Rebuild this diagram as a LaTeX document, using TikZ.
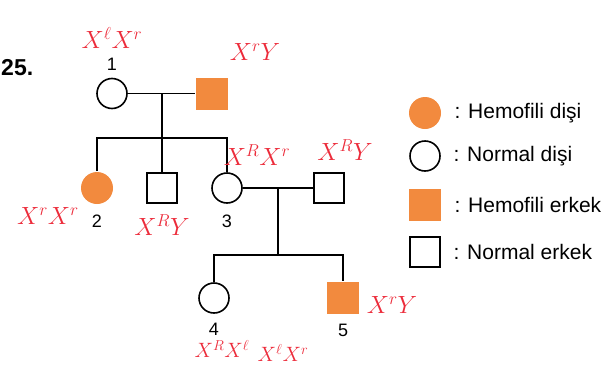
\documentclass[tikz,border=0pt]{standalone}
\usepackage{fontspec}
\setmainfont{Liberation Sans}
\usetikzlibrary{positioning}
\definecolor{hemoorange}{HTML}{F28A3E}
\definecolor{penred}{HTML}{EC2B3A}

\begin{document}
\begin{tikzpicture}[x=1pt, y=-1pt, line width=1.6pt]
\tikzstyle{female} = [circle, draw=black, minimum size=30pt, inner sep=0pt]
\tikzstyle{male} = [rectangle, draw=black, minimum size=30pt, inner sep=0pt]
\tikzstyle{hemofemale} = [circle, fill=hemoorange, minimum size=32pt, inner sep=0pt]
\tikzstyle{hemomale} = [rectangle, fill=hemoorange, minimum size=32pt, inner sep=0pt]
\tikzstyle{num} = [font=\fontsize{18}{18}\selectfont, inner sep=0pt]
\tikzstyle{legtext} = [font=\fontsize{21}{21}\selectfont, inner sep=0pt]
\tikzstyle{pen} = [text=penred, font=\fontsize{26}{26}\selectfont, inner sep=0pt]
\tikzstyle{pensmall} = [pen, font=\fontsize{21}{21}\selectfont]

\useasboundingbox (0,0) rectangle (615,367);

\node (qno) [font=\bfseries\fontsize{23}{23}\selectfont, anchor=base east, inner sep=0pt] at (34,75) {25.};

% generation I
\node (i1) [female] at (112,93.5) {};
\node (i2) [hemomale] at (212,93.5) {};
\node (n1) [num] at (112,64) {1};
\coordinate (m1) at (162,93.5);
\coordinate (s1) at (162,138);

% generation II
\node (ii2) [hemofemale] at (97,188) {};
\node (ii3) [male] at (162,188) {};
\node (ii4) [female] at (227,188) {};
\node (ii5) [male] at (329,188) {};
\node (n2) [num] at (97,221) {2};
\node (n3) [num] at (227,221) {3};
\coordinate (m2) at (278,188);
\coordinate (s2) at (278,255);

% generation III
\node (iii1) [female] at (214,298) {};
\node (iii2) [hemomale] at (343,298) {};
\node (n4) [num] at (214,329) {4};
\node (n5) [num] at (343,330) {5};

\draw (i1) -- (i2);
\draw (m1) -- (s1);
\draw (ii2.north) |- (s1) -| (ii4.north);
\draw (s1) -- (ii3);
\draw (ii4) -- (ii5);
\draw (m2) -- (s2);
\draw (iii1.north) |- (s2) -| (iii2.north);

% legend
\node (key1) [hemofemale] at (425,113) {};
\node (key2) [female] at (425,156) {};
\node (key3) [hemomale] at (425,205) {};
\node (key4) [male] at (425,252) {};
\node (lab1) [legtext, right=12pt of key1] {: Hemofili dişi};
\node (lab2) [legtext, right=12pt of key2] {: Normal dişi};
\node (lab3) [legtext, right=12pt of key3] {: Hemofili erkek};
\node (lab4) [legtext, right=12pt of key4] {: Normal erkek};

% handwritten genotypes
\node (g1) [pen] at (112,38) {$X^{\ell}X^{r}$};
\node (g2) [pen] at (255,52) {$X^{r}Y$};
\node (g3) [pen] at (257,155) {$X^{R}X^{r}$};
\node (g4) [pen] at (345,150) {$X^{R}Y$};
\node (g5) [pen] at (48,216) {$X^{r}X^{r}$};
\node (g6) [pen] at (162,225) {$X^{R}Y$};
\node (g7) [pen] at (392,305) {$X^{r}Y$};
\node (g8) [pensmall] at (222,349) {$X^{R}X^{\ell}$};
\node (g9) [pensmall] at (283,353) {$X^{\ell}X^{r}$};
\end{tikzpicture}
\end{document}
